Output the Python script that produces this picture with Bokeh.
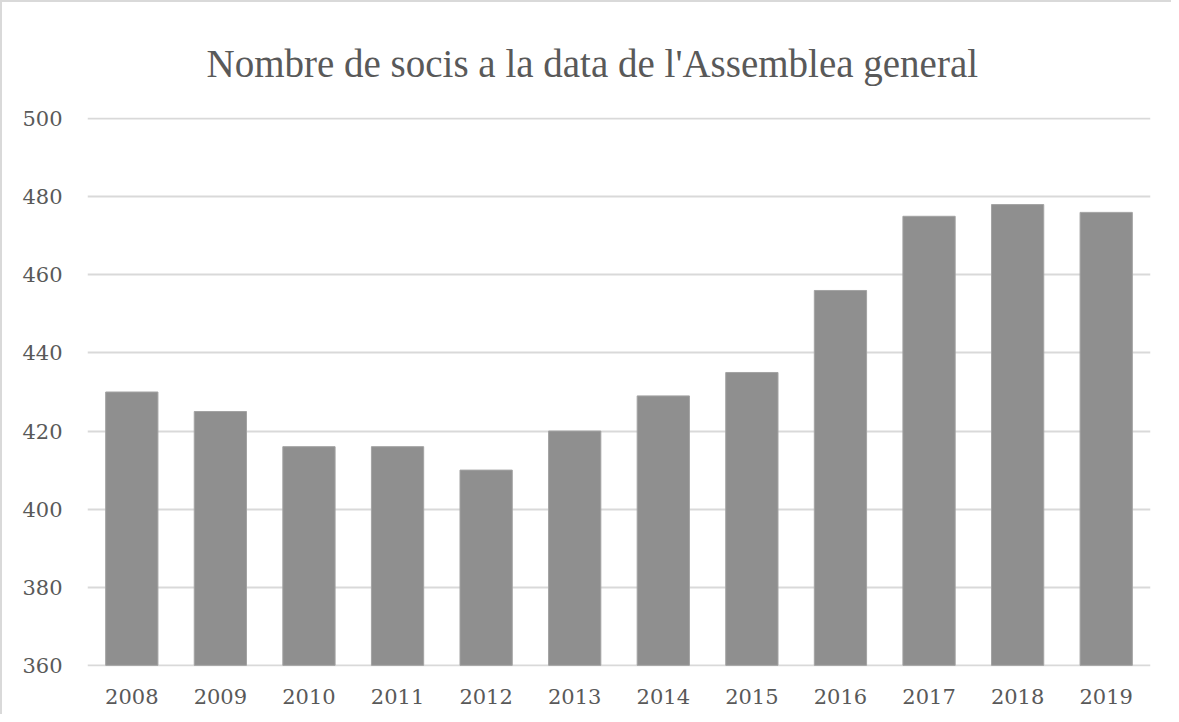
from bokeh.plotting import figure
from bokeh.models import ColumnDataSource, FixedTicker
from bokeh.embed import file_html
from bokeh.resources import INLINE

years = ["2008", "2009", "2010", "2011", "2012", "2013", "2014", "2015", "2016", "2017", "2018", "2019"]
members = [430, 425, 416, 416, 410, 420, 429, 435, 456, 475, 478, 476]
y_ticks = [360, 380, 400, 420, 440, 460, 480, 500]
title_text = "Nombre de socis a la data de l'Assemblea general"

FONT = "DejaVu Serif"
TITLE_FONT = "Liberation Serif"
TXT = "#595959"

src = ColumnDataSource(dict(year=years, n=members))

p = figure(x_range=years, y_range=(359.7, 500.3), width=1171, height=714,
           output_backend="svg", toolbar_location=None, title=title_text,
           min_border_left=85, min_border_right=23, min_border_bottom=50, min_border_top=115)
p.x_range.range_padding = 0

p.vbar(x="year", top="n", bottom=360, width=0.59, source=src,
       fill_color="#8f8f8f", line_color="#a3a3a3", line_width=1)

p.title.text_font = TITLE_FONT
p.title.text_font_size = "39px"
p.title.text_font_style = "normal"
p.title.text_color = TXT
p.title.align = "left"
p.title.standoff = 65
p.title.offset = 119

p.outline_line_color = None
p.background_fill_color = "white"
p.border_fill_color = "white"

p.xgrid.grid_line_color = None
p.ygrid.grid_line_color = "#d9d9d9"
p.ygrid.grid_line_width = 2

p.yaxis.ticker = FixedTicker(ticks=y_ticks)
for ax in (p.xaxis[0], p.yaxis[0]):
    ax.axis_line_color = None
    ax.major_tick_line_color = None
    ax.minor_tick_line_color = None
    ax.major_tick_out = 0
    ax.major_tick_in = 0
    ax.major_label_text_font = FONT
    ax.major_label_text_font_size = "21px"
    ax.major_label_text_color = TXT
p.yaxis.major_label_standoff = 25
p.xaxis.major_label_standoff = 22

p.styles = {"border-top": "2px solid #d9d9d9", "border-left": "2px solid #d9d9d9", "box-sizing": "border-box"}

open("out.html", "w").write(file_html(p, INLINE))
